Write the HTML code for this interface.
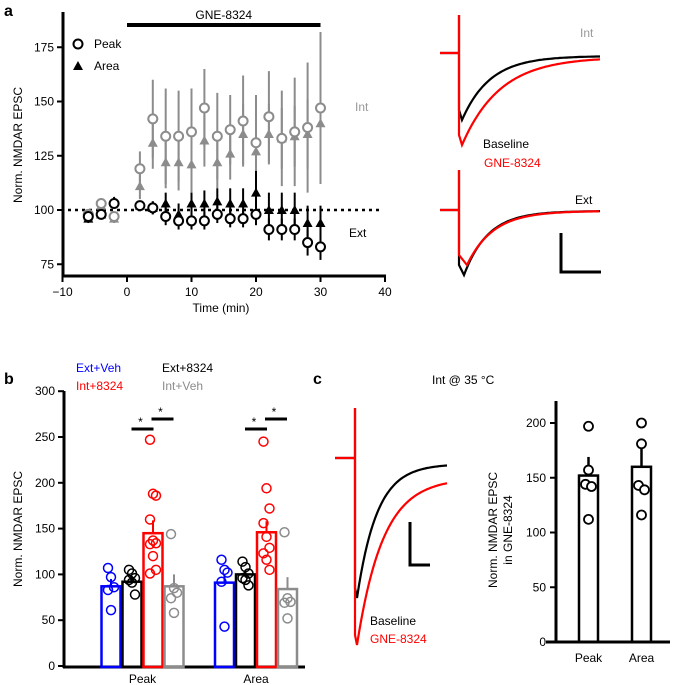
<!DOCTYPE html>
<html><head><meta charset="utf-8">
<style>
body{margin:0;background:#fff;}
svg{display:block;font-family:"Liberation Sans",sans-serif;}
</style></head>
<body>
<svg id="fig" width="678" height="685" viewBox="0 0 678 685" xmlns="http://www.w3.org/2000/svg">
<g id="pa"></g>
<g id="pb"></g>
<g id="pc"></g>
</svg>
<script>
// ---------- Panel a data ----------
const aTimes = [-6,-4,-2,2,4,6,8,10,12,14,16,18,20,22,24,26,28,30];
const intPeak = [98,103,97,119,142,134,134,136,147,134,137,141,131,143,133,136,138,147];
const intPeakErr = [2,2,2,8,18,22,21,20,18,20,16,21,22,21,22,25,30,35];
const intArea = [97,102,96,111,131,122,122,121,132,122,126,135,127,135,133,134,135,140];
const intAreaErr = [2,2,2,6,12,12,13,13,12,12,12,14,13,14,14,14,16,16];
const extPeak = [97,98,103,102,101,97,95,95,95,98,96,96,98,91,91,91,85,83];
const extPeakErr = [2,2,2,2,3,4,4,4,4,4,4,4,5,5,5,5,6,6];
const extArea = [96,98,104,102,101,103,98,103,103,104,103,103,108,100,100,100,94,94];
const extAreaErr = [2,2,2,2,3,5,5,5,6,6,7,7,10,8,8,8,8,8];
const aXTicks = [-10,0,10,20,30,40];
const aYTicks = [75,100,125,150,175];
// ---------- Panel b data ----------
const bGroups = ["Peak","Area"];
const bSeries = ["Ext+Veh","Ext+8324","Int+8324","Int+Veh"];
const bMeansPeak = [87,92,145,87];
const bMeansArea = [91,100,146,84];
const bErrPeak = [8,5,14,13];
const bErrArea = [9,4,12,13];
const bPtsPeak = [[107,97,86,83,61],[105,101,96,94,91,78],[247,188,186,160,137,134,133,120,105,101],[144,85,80,74,58]];
const bPtsArea = [[116,105,102,92,43],[114,108,101,96,94,88],[245,194,172,156,141,129,123,116,105],[146,74,70,69,52]];
const bYTicks = [0,50,100,150,200,250,300];
// ---------- Panel c data ----------
const cCats = ["Peak","Area"];
const cMeans = [152,160];
const cErr = [17,17];
const cPts = [[197,157,144,142,112],[200,181,143,139,116]];
const cYTicks = [0,50,100,150,200];

const NS="http://www.w3.org/2000/svg";
function mk(parent,tag,attrs,text){const e=document.createElementNS(NS,tag);for(const k in attrs)e.setAttribute(k,attrs[k]);if(text!==undefined)e.textContent=text;parent.appendChild(e);return e;}

// ===== Panel A =====
const pa=document.getElementById('pa');
const ax=t=>127+(t)*6.45;
const ay=v=>210-(v-100)*2.17;
let e;
e=mk(pa,'text',{x:4,y:16,'font-size':16,'font-weight':'bold'},'a');


e=mk(pa,'line',{x1:63,y1:12,x2:63,y2:277,stroke:'#000','stroke-width':3});


e=mk(pa,'line',{x1:62,y1:276,x2:386,y2:276,stroke:'#000','stroke-width':3});


aYTicks.forEach(v=>{
  mk(pa,'line',{x1:57,y1:ay(v),x2:63,y2:ay(v),stroke:'#000','stroke-width':2});
  e=mk(pa,'text',{x:54,y:ay(v)+4,'font-size':12,'text-anchor':'end'},v);
  
  
});
aXTicks.forEach(t=>{
  mk(pa,'line',{x1:ax(t),y1:276,x2:ax(t),y2:282,stroke:'#000','stroke-width':2});
  e=mk(pa,'text',{x:ax(t),y:296,'font-size':12,'text-anchor':'middle'},t===-10?'−10':t);
  
  
});
e=mk(pa,'text',{x:221,y:297+15,'font-size':12,'text-anchor':'middle'},'Time (min)');


e=mk(pa,'text',{x:0,y:0,'font-size':12,'text-anchor':'middle',transform:'translate(22,145) rotate(-90)'},'Norm. NMDAR EPSC');


e=mk(pa,'line',{x1:ax(0),y1:25,x2:ax(30),y2:25,stroke:'#000','stroke-width':4});


e=mk(pa,'text',{x:ax(15),y:19,'font-size':12,'text-anchor':'middle'},'GNE-8324');


e=mk(pa,'line',{x1:68,y1:ay(100),x2:380,y2:ay(100),stroke:'#000','stroke-width':2.5,'stroke-dasharray':'3,4'});


// legend
e=mk(pa,'circle',{cx:78,cy:44,r:4.5,fill:'#fff',stroke:'#000','stroke-width':2});


e=mk(pa,'text',{x:94,y:48,'font-size':12},'Peak');


e=mk(pa,'path',{d:'M73,70 L78,61 L83,70 Z',fill:'#000'});


e=mk(pa,'text',{x:94,y:70,'font-size':12},'Area');


e=mk(pa,'text',{x:355,y:111,'font-size':12,fill:'#999'},'Int');


e=mk(pa,'text',{x:349,y:237,'font-size':12},'Ext');



function drawSeries(vals,errs,color,shape,name){
  aTimes.forEach((t,i)=>{
    const x=ax(t),y=ay(vals[i]);
    const ln=mk(pa,'line',{x1:x,y1:ay(vals[i]+errs[i]),x2:x,y2:ay(vals[i]-errs[i]),stroke:color,'stroke-width':2});
    
    
    let m;
    if(shape==='c'){m=mk(pa,'circle',{cx:x,cy:y,r:4.5,fill:'#fff',stroke:color,'stroke-width':2});}
    else{m=mk(pa,'path',{d:`M${x-5},${y+4} L${x},${y-5} L${x+5},${y+4} Z`,fill:color});}
    
    
  });
}
drawSeries(intArea,intAreaErr,'#8c8c8c','t','int-area');
drawSeries(intPeak,intPeakErr,'#8c8c8c','c','int-peak');
drawSeries(extArea,extAreaErr,'#000','t','ext-area');
drawSeries(extPeak,extPeakErr,'#000','c','ext-peak');

// traces panel a
function trace(parent,x0,base,spikeX,spikeTop,minY,minX,endX,endY,tau,color,name){
  let d=`M${x0},${base} L${spikeX},${base} L${spikeX},${spikeTop} L${spikeX},${minY-10} `;
  d+=`L${minX},${minY} `;
  for(let x=minX;x<=endX;x+=2){const f=Math.exp(-(x-minX)/tau);d+=`L${x},${(endY+(minY-endY)*f).toFixed(1)} `;}
  const p=mk(parent,'path',{d:d,fill:'none',stroke:color,'stroke-width':2.2});
  
  
}
trace(pa,440,53,459,15,120,462,600,56,28,'#000','int-baseline-trace');
trace(pa,440,53,459,15,145,462,600,57,38,'#f00','int-gne-trace');
trace(pa,440,210,459,170,275,464,600,211,24,'#000','ext-baseline-trace');
trace(pa,440,210,459,170,265,467,600,211,26,'#f00','ext-gne-trace');
e=mk(pa,'text',{x:580,y:37,'font-size':12,fill:'#999'},'Int');

e=mk(pa,'text',{x:483,y:148,'font-size':12},'Baseline');

e=mk(pa,'text',{x:484,y:167,'font-size':12,fill:'#f00'},'GNE-8324');

e=mk(pa,'text',{x:575,y:204,'font-size':12},'Ext');

e=mk(pa,'path',{d:'M561,233 L561,272 L601,272',fill:'none',stroke:'#000','stroke-width':3});


// ===== Panel B =====
const pb=document.getElementById('pb');
const by=v=>666-v*0.916;
const bColors=['#00f','#000','#f00','#8c8c8c'];
const groupStart=[100.5,214];
const bw=21;
e=mk(pb,'text',{x:4,y:384,'font-size':16,'font-weight':'bold'},'b');

e=mk(pb,'line',{x1:64,y1:391,x2:64,y2:668,stroke:'#000','stroke-width':3});

e=mk(pb,'line',{x1:63,y1:667,x2:305,y2:667,stroke:'#000','stroke-width':3});

bYTicks.forEach(v=>{
  mk(pb,'line',{x1:58,y1:by(v),x2:64,y2:by(v),stroke:'#000','stroke-width':2});
  e=mk(pb,'text',{x:55,y:by(v)+4,'font-size':12,'text-anchor':'end'},v);
  
});
e=mk(pb,'text',{x:0,y:0,'font-size':12,'text-anchor':'middle',transform:'translate(22,529) rotate(-90)'},'Norm. NMDAR EPSC');

const legPos=[[76,372],[162,372],[76,390],[162,390]];
bSeries.forEach((s,i)=>{
  e=mk(pb,'text',{x:legPos[i][0],y:legPos[i][1],'font-size':12,fill:bColors[i]},s);
  
  
});
bGroups.forEach((g,gi)=>{
  const means=gi===0?bMeansPeak:bMeansArea;
  const errs=gi===0?bErrPeak:bErrArea;
  const pts=gi===0?bPtsPeak:bPtsArea;
  bSeries.forEach((s,si)=>{
    const x=groupStart[gi]+si*bw;
    const er=mk(pb,'line',{x1:x+bw/2,y1:by(means[si]),x2:x+bw/2,y2:by(means[si]+errs[si]),stroke:bColors[si],'stroke-width':2});
    
    const r=mk(pb,'rect',{x:x+1,y:by(means[si]),width:bw-2,height:666-by(means[si])+1,fill:'none',stroke:bColors[si],'stroke-width':2.5});
    
    
    pts[si].forEach((v,k)=>{
      const jx=(k%3-1)*3;
      const c=mk(pb,'circle',{cx:x+bw/2+jx,cy:by(v),r:4.5,fill:'none',stroke:bColors[si],'stroke-width':1.5});
      
    });
  });
  e=mk(pb,'text',{x:groupStart[gi]+2*bw,y:683,'font-size':12,'text-anchor':'middle'},g);
  
  const x0=groupStart[gi];
  [[x0+31,x0+53,429],[x0+51,x0+73,419]].forEach(s=>{
    e=mk(pb,'line',{x1:s[0],y1:s[2],x2:s[1],y2:s[2],stroke:'#000','stroke-width':3});
    
    e=mk(pb,'text',{x:(s[0]+s[1])/2-2,y:s[2]-3,'font-size':12,'text-anchor':'middle'},'*');
    
  });
});

// ===== Panel C =====
const pc=document.getElementById('pc');
const cy=v=>642-v*1.095;
const cX=[579,632];
e=mk(pc,'text',{x:313,y:384,'font-size':16,'font-weight':'bold'},'c');

e=mk(pc,'text',{x:432,y:384,'font-size':12},'Int @ 35 °C');

trace(pc,335,458,355,408,598,357,448,464,20,'#000','c-baseline-trace');
trace(pc,335,458,355,408,645,357,448,478,26,'#f00','c-gne-trace');
e=mk(pc,'path',{d:'M410,522 L410,565 L430,565',fill:'none',stroke:'#000','stroke-width':3});

e=mk(pc,'text',{x:370,y:625,'font-size':12},'Baseline');

e=mk(pc,'text',{x:370,y:643,'font-size':12,fill:'#f00'},'GNE-8324');

e=mk(pc,'line',{x1:556,y1:401,x2:556,y2:643,stroke:'#000','stroke-width':3});

e=mk(pc,'line',{x1:546,y1:642,x2:670,y2:642,stroke:'#000','stroke-width':3});

cYTicks.forEach(v=>{
  mk(pc,'line',{x1:550,y1:cy(v),x2:556,y2:cy(v),stroke:'#000','stroke-width':2});
  e=mk(pc,'text',{x:546,y:cy(v)+4,'font-size':12,'text-anchor':'end'},v);
  
});
e=mk(pc,'text',{x:0,y:0,'font-size':12,'text-anchor':'middle',transform:'translate(497,530) rotate(-90)'},'Norm. NMDAR EPSC');

e=mk(pc,'text',{x:0,y:0,'font-size':12,'text-anchor':'middle',transform:'translate(512,530) rotate(-90)'},'in GNE-8324');

cCats.forEach((c,i)=>{
  const x=cX[i],w=19;
  e=mk(pc,'line',{x1:x+w/2,y1:cy(cMeans[i]),x2:x+w/2,y2:cy(cMeans[i]+cErr[i]),stroke:'#000','stroke-width':2.5});
  
  e=mk(pc,'rect',{x:x,y:cy(cMeans[i]),width:w,height:642-cy(cMeans[i]),fill:'none',stroke:'#000','stroke-width':2.5});
  
  cPts[i].forEach((v,k)=>{
    const jx=[0,0,-3,3,0][k];
    const p=mk(pc,'circle',{cx:x+w/2+jx,cy:cy(v),r:4.5,fill:'#fff',stroke:'#000','stroke-width':1.8});
    
  });
  e=mk(pc,'text',{x:x+w/2,y:662,'font-size':12,'text-anchor':'middle'},c);
  
});
</script>
</body></html>
